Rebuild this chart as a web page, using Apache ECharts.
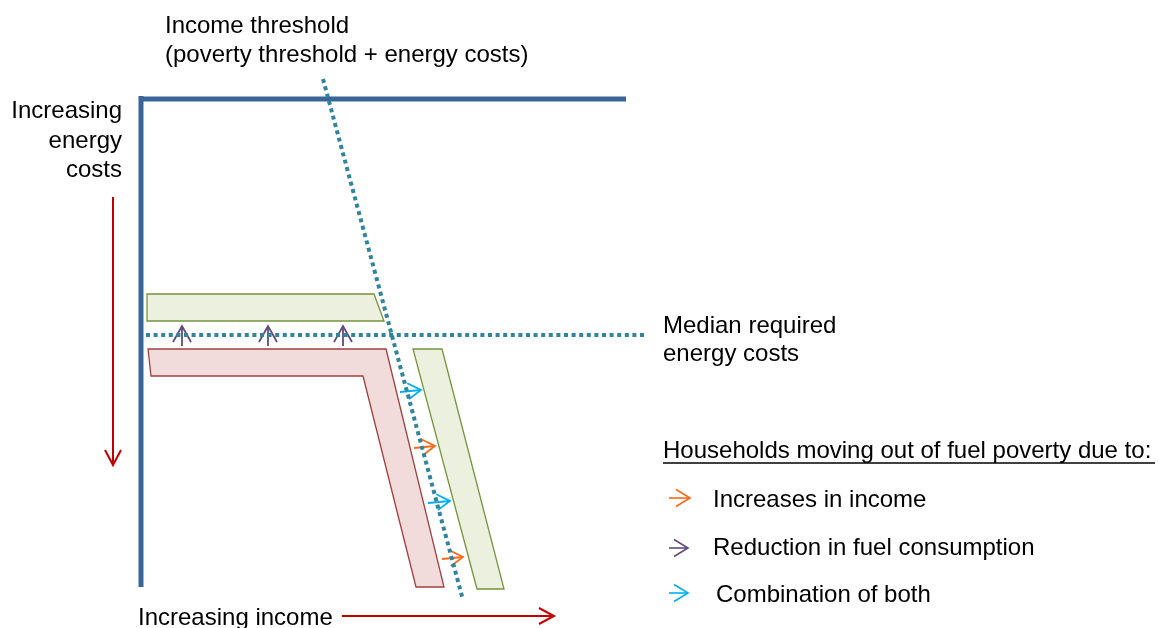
<!DOCTYPE html>
<html>
<head>
<meta charset="utf-8">
<script src="https://cdn.jsdelivr.net/npm/echarts@6/dist/echarts.min.js"></script>
<style>html,body{margin:0;padding:0;background:#fff}#c{width:1159px;height:628px}</style>
</head>
<body>
<div id="c"></div>
<script>
// Diagram geometry in diagram units (x: income direction, y: energy cost direction, downward)
const frameVertical = [[141, 96], [141, 587]];
const frameTop = [[139, 99], [626, 99]];
const incomeThreshold = [[323, 79], [463, 600]];
const medianEnergyCost = [[146, 335], [645, 335]];
const greenTop = [[147, 294], [374, 294], [384, 321], [147, 321]];
const redL = [[148, 349], [386, 349], [444, 587], [416, 587], [363, 376], [151, 376]];
const greenRight = [[413, 349], [442, 349], [504, 589], [477, 589]];
const purpleArrows = [[182, 346, 182, 326], [268, 346, 268, 326], [343, 346, 343, 326]];
const blueArrows = [[400, 392, 421, 390], [428, 503, 450, 501]];
const orangeArrows = [[414, 448, 435, 446], [442, 559, 463, 557]];
const redArrows = [[113, 197, 113, 465], [342, 616, 554, 616]];
const legendArrows = [[669, 498, 690, 498, '#F96A1B'], [669, 548, 688, 548, '#604A7B'], [669, 593, 688, 593, '#00B0F0']];
const legendLabels = ['Increases in income', 'Reduction in fuel consumption', 'Combination of both'];

const FONT = '"Liberation Sans", Arial, sans-serif';

function polygonSeries(points, fill, stroke) {
  return {
    type: 'custom',
    data: [0],
    silent: true,
    renderItem: function (params, api) {
      return {
        type: 'polygon',
        shape: { points: points.map(p => api.coord(p)) },
        style: { fill: fill, stroke: stroke, lineWidth: 1.3 }
      };
    }
  };
}

function arrowSeries(arrows, color, headLen, headHalf, width) {
  return {
    type: 'custom',
    data: arrows.map(a => a.slice(0, 4)),
    silent: true,
    renderItem: function (params, api) {
      const p1 = api.coord([api.value(0), api.value(1)]);
      const p2 = api.coord([api.value(2), api.value(3)]);
      const dx = p2[0] - p1[0], dy = p2[1] - p1[1];
      const L = Math.sqrt(dx * dx + dy * dy);
      const ux = dx / L, uy = dy / L;
      const nx = -uy, ny = ux;
      const b = [p2[0] - ux * headLen, p2[1] - uy * headLen];
      const col = arrows[params.dataIndex][4] || color;
      return {
        type: 'group',
        children: [
          { type: 'line', shape: { x1: p1[0], y1: p1[1], x2: p2[0], y2: p2[1] }, style: { stroke: col, lineWidth: width } },
          { type: 'polyline', shape: { points: [[b[0] + nx * headHalf, b[1] + ny * headHalf], p2, [b[0] - nx * headHalf, b[1] - ny * headHalf]] }, style: { stroke: col, lineWidth: width, fill: null } }
        ]
      };
    }
  };
}

function lineSeries(points, color, width, type) {
  return {
    type: 'line',
    data: points,
    showSymbol: false,
    symbol: 'none',
    silent: true,
    animation: false,
    lineStyle: { color: color, width: width, type: type || 'solid', cap: 'butt' }
  };
}

const chart = echarts.init(document.getElementById('c'), null, { renderer: 'canvas' });
const dotted = [4, 3.6];
const T = (text, x, y, align) => ({ type: 'text', x: x, y: y, style: { text: text, font: '24px ' + FONT, fill: '#000', align: align || 'left', verticalAlign: 'middle' } });
chart.setOption({
  animation: false,
  backgroundColor: '#ffffff',
  grid: { left: 0, right: 0, top: 0, bottom: 0 },
  xAxis: { type: 'value', min: 0, max: 1159, show: false },
  yAxis: { type: 'value', min: 0, max: 628, inverse: true, show: false },
  series: [
    polygonSeries(greenTop, '#EBF1DE', '#77933C'),
    polygonSeries(redL, '#F2DCDB', '#A0403E'),
    polygonSeries(greenRight, '#EBF1DE', '#77933C'),
    lineSeries(frameVertical, '#3A6599', 5),
    lineSeries(frameTop, '#3A6599', 5),
    lineSeries(incomeThreshold, '#31849B', 4, dotted),
    lineSeries(medianEnergyCost, '#31849B', 4, dotted),
    arrowSeries(purpleArrows, '#604A7B', 16, 9, 1.8),
    arrowSeries(blueArrows, '#00B0F0', 13, 8, 1.8),
    arrowSeries(orangeArrows, '#F96A1B', 13, 8, 1.8),
    arrowSeries(redArrows, '#C00000', 15, 8, 2),
    arrowSeries(legendArrows, '#000', 14, 8.5, 1.6)
  ],
  graphic: [
    T('Income threshold', 165, 26),
    T('(poverty threshold + energy costs)', 165, 55),
    T('Increasing', 122, 111, 'right'),
    T('energy', 122, 141, 'right'),
    T('costs', 122, 170, 'right'),
    T('Median required', 663, 326),
    T('energy costs', 663, 354),
    T('Households moving out of fuel poverty due to:', 663, 451),
    { type: 'line', shape: { x1: 663, y1: 463, x2: 1155, y2: 463 }, style: { stroke: '#000', lineWidth: 1.5 } },
    T(legendLabels[0], 713, 500),
    T(legendLabels[1], 713, 548),
    T(legendLabels[2], 716, 595),
    T('Increasing income', 138, 618)
  ]
});
</script>
</body>
</html>
